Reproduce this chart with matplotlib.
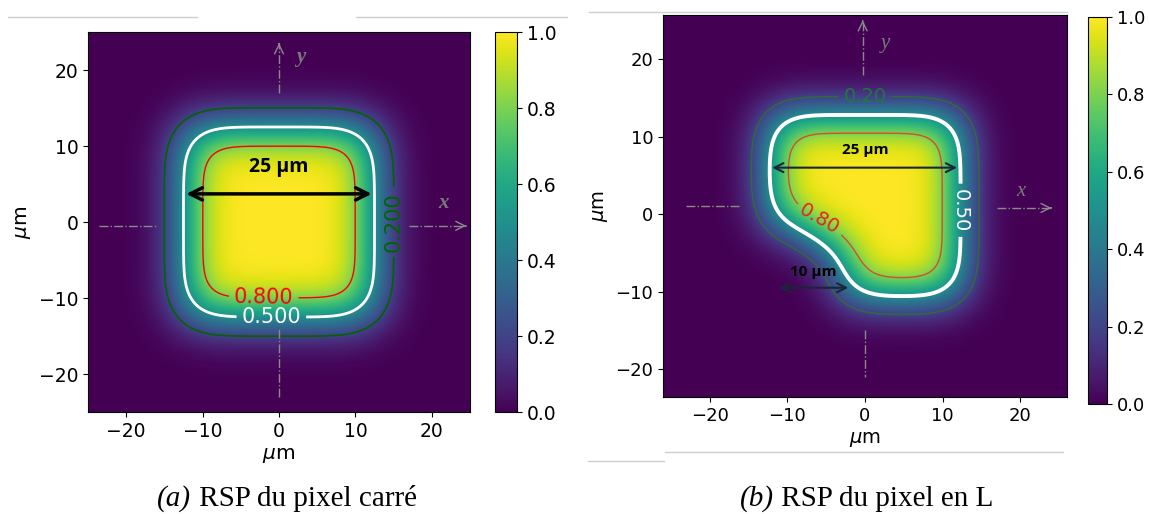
import math
import matplotlib
matplotlib.use("Agg")
import matplotlib.pyplot as plt
import numpy as np
from matplotlib.lines import Line2D

# pixel geometry (um) and blur of the response
sigma_a = 3.0
sigma_b = 2.8
square_rect = [(-12.5, 12.5, -12.5, 12.5)]
l_rects = [(-12.3, 12.3, -1.5, 12.8),   # upper bar of the L
           (-2.8, 12.3, -10.6, -1.5),    # lower right part
           (-7.0, -2.8, -4.0, -1.5)]     # rounded inner corner
levels = [0.2, 0.5, 0.8]
level_colors_a = ['darkgreen', 'white', 'red']
level_colors_b = ['#2f6a42', 'white', '#d0502a']
label_colors_b = ['#1e7a38', 'white', '#e8241c']
level_widths_a = [1.2, 2.0, 1.0]
level_widths_b = [1.1, 2.8, 1.0]
cbar_ticks = [0.0, 0.2, 0.4, 0.6, 0.8, 1.0]
ticks = [-20, -10, 0, 10, 20]
captions = [("(a)", " RSP du pixel carré"), ("(b)", " RSP du pixel en L")]

erf = np.frompyfunc(math.erf, 1, 1)


def rsp(X, Y, rects, s):
    k = s * math.sqrt(2)
    z = np.zeros_like(X)
    for x0, x1, y0, y1 in rects:
        fx = (erf((x1 - X) / k) - erf((x0 - X) / k)).astype(float)
        fy = (erf((y1 - Y) / k) - erf((y0 - Y) / k)).astype(float)
        z += 0.25 * fx * fy
    return z


W, H = 1149, 514
fig = plt.figure(figsize=(W / 100, H / 100), dpi=100)


def px(l, t, r, b):
    return [l / W, 1 - b / H, (r - l) / W, (b - t) / H]


def guide(ax, start, end, arrow):
    ax.plot([start[0], end[0]], [start[1], end[1]], ls='-.', color='#8a8a8a', lw=1)
    if arrow:
        ax.annotate('', xy=end, xytext=(end[0] - 0.01 * (end[0] - start[0]), end[1] - 0.01 * (end[1] - start[1])),
                    arrowprops=dict(arrowstyle='->', color='#8a8a8a', lw=1, mutation_scale=16))


def panel(ax_pos, cb_pos, xlim, ylim, rects, sigma, colors, widths, fmt, label_pos, lfs, fs):
    ax = fig.add_axes(px(*ax_pos))
    x = np.linspace(xlim[0], xlim[1], 400)
    y = np.linspace(ylim[0], ylim[1], 400)
    X, Y = np.meshgrid(x, y)
    Z = rsp(X, Y, rects, sigma)
    im = ax.imshow(Z, extent=[xlim[0], xlim[1], ylim[0], ylim[1]], origin='lower',
                   cmap='viridis', vmin=0, vmax=1, interpolation='bilinear', aspect='auto')
    cs = ax.contour(X, Y, Z, levels=levels, colors=colors, linewidths=widths)
    labels = ax.clabel(cs, fmt=fmt, fontsize=lfs, manual=label_pos, inline=True)
    ax.set_xlim(xlim)
    ax.set_ylim(ylim)
    ax.set_xticks(ticks)
    ax.set_yticks(ticks)
    ax.tick_params(labelsize=fs)
    ax.set_xlabel(r'$\mu$m', fontsize=fs + 1)
    ax.set_ylabel(r'$\mu$m', fontsize=fs + 1)
    cax = fig.add_axes(px(*cb_pos))
    cb = fig.colorbar(im, cax=cax, ticks=cbar_ticks)
    cb.ax.tick_params(labelsize=fs)
    cb.ax.yaxis.set_major_formatter(matplotlib.ticker.FormatStrFormatter('%.1f'))
    return ax, labels


# (a) square pixel
ax1, lab1 = panel((88, 32, 470, 412), (495, 32, 517, 412), (-25, 25), (-25, 25),
                  square_rect, sigma_a, level_colors_a, level_widths_a, '%.3f',
                  [(15, 0), (-1, -12.5), (-2, -10)], 15, 13.5)
for t in lab1:
    if t.get_text() == '0.200':
        t.set_rotation(90)
guide(ax1, (0, -23), (0, -14), False)
guide(ax1, (0, 17), (0, 23.5), True)
guide(ax1, (-23.5, -0.5), (-16, -0.5), False)
guide(ax1, (17, -0.5), (24.5, -0.5), True)
ax1.text(2.3, 21, 'y', family='Liberation Serif', style='italic', weight='bold', fontsize=15, color='#7a7a7a')
ax1.text(20.8, 1.8, 'x', family='Liberation Serif', style='italic', weight='bold', fontsize=15, color='#7a7a7a')
ax1.annotate('', xy=(12.5, 3.7), xytext=(-12.5, 3.7),
             arrowprops=dict(arrowstyle='<->', color='black', lw=2.5, mutation_scale=22))
ax1.text(0, 7.2, '25 µm', ha='center', va='center', family='Open Sans', weight='bold', fontsize=14)

# (b) L-shaped pixel
ax2, lab2 = panel((663, 15, 1067, 397), (1088, 17, 1107, 404), (-26, 26), (-23.6, 25.7),
                  l_rects, sigma_b, level_colors_b, level_widths_b, '%.2f',
                  [(0, 15.2), (12.3, 0.5), (-5.3, 0.2)], 14, 13)
for t in lab2:
    txt = t.get_text()
    t.set_color(label_colors_b[['0.20', '0.50', '0.80'].index(txt)])
    if txt == '0.50':
        t.set_rotation(-90)
    if txt == '0.80':
        t.set_rotation(-30)
guide(ax2, (0, -15), (0, -21), False)
guide(ax2, (-0.3, 18), (-0.3, 25), True)
guide(ax2, (-23, 1), (-16, 1), False)
guide(ax2, (17, 0.8), (24, 0.8), True)
ax2.text(2, 21.5, 'y', family='Liberation Serif', style='italic', fontsize=15, color='#7a7a7a')
ax2.text(19.5, 2.3, 'x', family='Liberation Serif', style='italic', fontsize=15, color='#7a7a7a')
ax2.annotate('', xy=(12.2, 6), xytext=(-12.3, 6),
             arrowprops=dict(arrowstyle='<->', color='#1a2638', lw=1.5, mutation_scale=16))
ax2.text(0, 8.3, '25 µm', ha='center', va='center', family='Open Sans', weight='bold', fontsize=11)
ax2.annotate('', xy=(-1.8, -9.5), xytext=(-11.4, -9.5),
             arrowprops=dict(arrowstyle='<->', color='#1a2638', lw=1.5, mutation_scale=16))
ax2.text(-6.6, -7.5, '10 µm', ha='center', va='center', family='Open Sans', weight='bold', fontsize=11)

# captions: italic sub-figure letter followed by upright text
renderer = fig.canvas.get_renderer()
for (tag, rest), cx in zip(captions, [287, 867]):
    t1 = fig.text(0, 1 - 506 / H, tag, family='Liberation Serif', style='italic', fontsize=21, va='baseline')
    t2 = fig.text(0, 1 - 506 / H, rest, family='Liberation Serif', fontsize=21, va='baseline')
    w1 = t1.get_window_extent(renderer).width
    w2 = t2.get_window_extent(renderer).width
    left = cx - (w1 + w2) / 2
    t1.set_x(left / W)
    t2.set_x((left + w1) / W)

# faint page rules from the source document
for (x0, x1, yy) in [(8, 197, 17), (356, 567, 17), (589, 1067, 12), (665, 1063, 452), (588, 664, 461)]:
    fig.add_artist(Line2D([x0 / W, x1 / W], [1 - yy / H, 1 - yy / H], color='#cfcfcf', lw=1))

fig.savefig('out.png', dpi=100)
